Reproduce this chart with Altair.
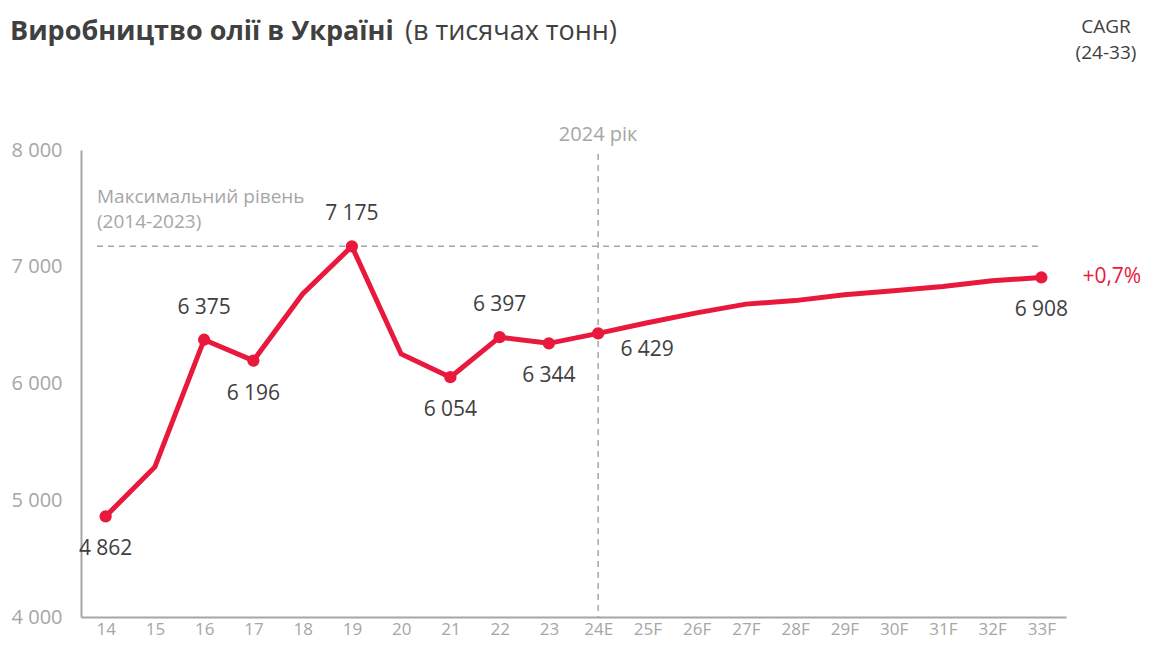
import altair as alt
import pandas as pd

# ---- data ----
years = ["14", "15", "16", "17", "18", "19", "20", "21", "22", "23", "24E",
         "25F", "26F", "27F", "28F", "29F", "30F", "31F", "32F", "33F"]
production = [4862, 5285, 6375, 6196, 6767, 7175, 6253, 6054, 6397, 6344, 6429,
              6520, 6605, 6680, 6710, 6760, 6795, 6830, 6880, 6908]
marked_years = ["14", "16", "17", "19", "21", "22", "23", "24E", "33F"]
labels_above = ["16", "19", "22"]
labels_below = ["14", "17", "21", "23", "33F"]
labels_right = ["24E"]
peak_value = 7175
divider_year = "24E"
divider_text = "2024 рік"
peak_text = ["Максимальний рівень", "(2014-2023)"]
cagr_year = "33F"
cagr_text = "+0,7%"
title_bold = "Виробництво олії в Україні"
title_regular = "(в тисячах тонн)"
cagr_header = ["CAGR", "(24-33)"]
y_ticks = [4000, 5000, 6000, 7000, 8000]

RED = "#E8193D"
DARK = "#404040"
GRAY = "#A6A6A6"
FONT = "Open Sans"

W, H = 985, 467

df = pd.DataFrame({"year": years, "value": production})
fmt = "replace(format(datum.value, ','), ',', ' ')"

xscale = alt.Scale(domain=years, type="point", padding=0.5)
x_enc = alt.X("year:N", scale=xscale,
              axis=alt.Axis(title=None, labelAngle=0, labelAlign="center", labelColor=GRAY,
                            labelFontSize=17, labelFont=FONT, labelPadding=12, ticks=False,
                            domainColor=GRAY, domainWidth=2, grid=False))
y_enc = alt.Y("value:Q", scale=alt.Scale(domain=[4000, 8000], nice=False, zero=False),
              axis=alt.Axis(title=None, values=y_ticks, labelExpr=fmt, labelColor=GRAY,
                            labelFontSize=20, labelFont=FONT, labelPadding=19, ticks=False,
                            domainColor=GRAY, domainWidth=2, grid=False))

base = alt.Chart(df).encode(x=x_enc, y=y_enc)

line = base.mark_line(color=RED, strokeWidth=5)
points = base.mark_circle(size=150, color=RED, opacity=1).transform_filter(
    alt.FieldOneOfPredicate(field="year", oneOf=marked_years))

lab = base.transform_calculate(label=fmt).encode(text="label:N")
txt_kw = dict(font=FONT, fontSize=21, color=DARK, baseline="middle")
above = lab.mark_text(dy=-32, **txt_kw).transform_filter(
    alt.FieldOneOfPredicate(field="year", oneOf=labels_above))
below = lab.mark_text(dy=33, **txt_kw).transform_filter(
    alt.FieldOneOfPredicate(field="year", oneOf=labels_below))
right = lab.mark_text(dy=17, dx=49, **txt_kw).transform_filter(
    alt.FieldOneOfPredicate(field="year", oneOf=labels_right))

cagr = base.mark_text(font=FONT, fontSize=21, color=RED, align="left", baseline="middle",
                      dx=41).encode(text=alt.value(cagr_text)).transform_filter(
    alt.FieldOneOfPredicate(field="year", oneOf=[cagr_year]))

peak_rule = alt.Chart(pd.DataFrame({"value": [peak_value]})).mark_rule(
    color=GRAY, strokeDash=[6, 5], strokeWidth=1.5).encode(
    y=alt.Y("value:Q", scale=alt.Scale(domain=[4000, 8000], nice=False, zero=False)),
    x=alt.value(16), x2=alt.value(961))

div_rule = alt.Chart(pd.DataFrame({"year": [divider_year]})).mark_rule(
    color=GRAY, strokeDash=[6, 5], strokeWidth=1.5).encode(
    x=alt.X("year:N", scale=xscale), y=alt.value(4), y2=alt.value(H))

div_text = alt.Chart(pd.DataFrame({"year": [divider_year], "t": [divider_text]})).mark_text(
    font=FONT, fontSize=20, color=GRAY, baseline="middle").encode(
    x=alt.X("year:N", scale=xscale), y=alt.value(-15), text="t:N")

peak_lbl = alt.Chart(pd.DataFrame({"t": [peak_text]})).mark_text(
    font=FONT, fontSize=19, color=GRAY, align="left", baseline="middle", lineHeight=25).encode(
    x=alt.value(16), y=alt.value(47), text="t")

t1 = alt.Chart(pd.DataFrame({"t": [title_bold]})).mark_text(
    font=FONT, fontSize=27, fontWeight="bold", color=DARK, align="left",
    baseline="alphabetic").encode(x=alt.value(-71), y=alt.value(-110), text="t:N")
t2 = alt.Chart(pd.DataFrame({"t": [title_regular]})).mark_text(
    font=FONT, fontSize=27, color=DARK, align="left",
    baseline="alphabetic").encode(x=alt.value(324), y=alt.value(-110), text="t:N")
ch = alt.Chart(pd.DataFrame({"t": [cagr_header]})).mark_text(
    font=FONT, fontSize=19, color=DARK, align="center", baseline="middle",
    lineHeight=26).encode(x=alt.value(1025), y=alt.value(-123), text="t")

chart = alt.layer(peak_rule, div_rule, line, points, above, below, right, cagr,
                  div_text, peak_lbl, t1, t2, ch).properties(
    width=W, height=H,
    autosize=alt.AutoSizeParams(type="none"),
    padding={"left": 73, "top": 142, "right": 81, "bottom": 26},
).configure_view(stroke=None)

chart.save("out.html", embed_options={"renderer": "svg", "actions": False})
